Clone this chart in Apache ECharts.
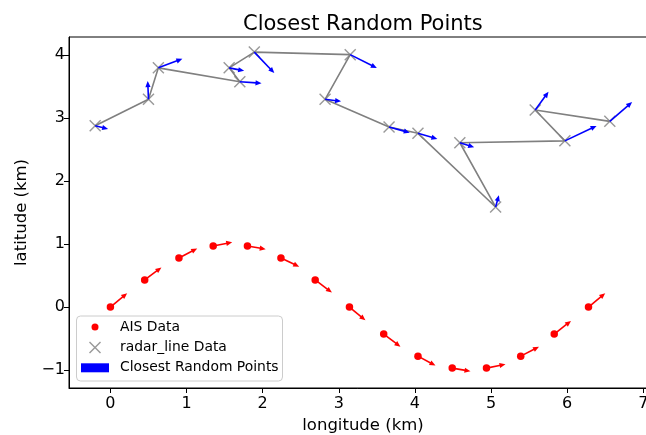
<!DOCTYPE html>
<html>
<head>
<meta charset="utf-8">
<script src="https://cdn.jsdelivr.net/npm/echarts@6/dist/echarts.min.js"></script>
<style>
  html, body { margin: 0; padding: 0; background: #fff; }
  #chart { width: 646px; height: 435px; }
</style>
</head>
<body>
<div id="chart"></div>
<script>
// AIS track (red dots) and its heading arrows
var aisLon = [0, 0.45, 0.90, 1.35, 1.80, 2.24, 2.69, 3.14, 3.59, 4.04, 4.49, 4.94, 5.39, 5.83, 6.28];
var aisLat = [0, 0.43, 0.78, 0.97, 0.97, 0.78, 0.43, 0, -0.43, -0.78, -0.97, -0.97, -0.78, -0.43, 0];
var aisDu  = [0.22, 0.22, 0.24, 0.25, 0.24, 0.24, 0.22, 0.21, 0.22, 0.23, 0.24, 0.25, 0.24, 0.22, 0.22];
var aisDv  = [0.22, 0.20, 0.15, 0.06, -0.05, -0.14, -0.20, -0.21, -0.20, -0.15, -0.05, 0.06, 0.15, 0.21, 0.22];

// radar line points (grey x) and the blue arrows
var radarLon = [-0.20, 0.50, 0.63, 1.70, 1.56, 1.89, 3.15, 2.82, 3.66, 4.04, 5.06, 4.59, 5.97, 5.58, 6.56];
var radarLat = [2.88, 3.30, 3.80, 3.58, 3.80, 4.05, 4.01, 3.30, 2.86, 2.76, 1.59, 2.61, 2.64, 3.13, 2.95];
var radarDu  = [0.17, -0.01, 0.315, 0.285, 0.197, 0.263, 0.35, 0.21, 0.272, 0.255, 0.043, 0.188, 0.416, 0.175, 0.293];
var radarDv  = [-0.05, 0.29, 0.143, -0.025, -0.048, -0.333, -0.213, -0.032, -0.09, -0.09, 0.186, -0.073, 0.238, 0.29, 0.306];

var xTicks = [0, 1, 2, 3, 4, 5, 6, 7];
var yTicks = [-1, 0, 1, 2, 3, 4];

var FONT = 'DejaVu Sans';
var xIcon = 'path://M0,1L1,0L6,5L11,0L12,1L7,6L12,11L11,12L6,7L1,12L0,11L5,6Z';

function zip2(a, b) {
	var out = [];
	for (var i = 0; i < a.length; i++) out.push([a[i], b[i]]);
	return out;
}
function zip4(a, b, c, d) {
	var out = [];
	for (var i = 0; i < a.length; i++) out.push([a[i], b[i], c[i], d[i]]);
	return out;
}
// matplotlib style minus sign
function tickFmt(v) {
	return String(v).replace('-', '\u2212');
}

// quiver-like arrow drawn from (x,y) to (x+dx,y+dy)
function arrowRenderer(color) {
	return function (params, api) {
		var p0 = api.coord([api.value(0), api.value(1)]);
		var p1 = api.coord([api.value(0) + api.value(2), api.value(1) + api.value(3)]);
		var vx = p1[0] - p0[0], vy = p1[1] - p0[1];
		var len = Math.sqrt(vx * vx + vy * vy) || 1;
		var ux = vx / len, uy = vy / len;
		var hl = Math.min(6, len * 0.6), hw = 2.6;
		var bx = p1[0] - ux * hl, by = p1[1] - uy * hl;
		return {
			type: 'group',
			children: [
				{ type: 'line', shape: { x1: p0[0], y1: p0[1], x2: bx + ux, y2: by + uy },
				  style: { stroke: color, lineWidth: 1.6 } },
				{ type: 'polygon',
				  shape: { points: [[p1[0], p1[1]], [bx - uy * hw, by + ux * hw], [bx + uy * hw, by - ux * hw]] },
				  style: { fill: color } }
			]
		};
	};
}

var chart = echarts.init(document.getElementById('chart'));

var legendText = { fontFamily: FONT, fontSize: 13.9, color: '#000', padding: [0, 0, 0, 6] };

var option = {
	animation: false,
	backgroundColor: '#fff',
	title: {
		text: 'Closest Random Points',
		left: 243, top: 14, padding: 0,
		textStyle: { fontFamily: FONT, fontSize: 21, fontWeight: 'normal', color: '#000' }
	},
	grid: {
		left: 69, right: -11, top: 37, bottom: 47,
		outerBoundsMode: 'none', containLabel: false,
		show: true, borderColor: '#000', borderWidth: 1, backgroundColor: 'transparent'
	},
	graphic: [{
		type: 'rect', left: 76, top: 315.5, z: 5,
		shape: { width: 206, height: 65, r: 4 },
		style: { fill: 'rgba(255,255,255,0.8)', stroke: '#cccccc', lineWidth: 1 }
	}],
	legend: [
		{ data: [{ name: 'AIS Data', icon: 'circle' }], left: 91.5, top: 320, padding: 0, z: 6,
		  itemWidth: 28, itemHeight: 7, textStyle: legendText },
		{ data: [{ name: 'radar_line Data', icon: xIcon }], left: 89, top: 340.5, padding: 0, z: 6,
		  itemWidth: 28, itemHeight: 12, textStyle: legendText },
		{ data: [{ name: 'Closest Random Points', icon: 'rect' }], left: 81, top: 360.8, padding: 0, z: 6,
		  itemWidth: 28, itemHeight: 9, textStyle: legendText }
	],
	xAxis: {
		type: 'value', min: -0.544, max: 7.18,
		name: 'longitude (km)', nameLocation: 'middle', nameGap: 29,
		nameTextStyle: { fontFamily: FONT, fontSize: 16.5, color: '#000' },
		axisLine: { onZero: false, lineStyle: { color: '#000', width: 1 } },
		axisTick: { length: 5, lineStyle: { color: '#000' }, customValues: xTicks },
		axisLabel: { fontFamily: FONT, fontSize: 16, color: '#000', margin: 8, customValues: xTicks, formatter: tickFmt },
		splitLine: { show: false }
	},
	yAxis: {
		type: 'value', min: -1.286, max: 4.29,
		name: 'latitude (km)', nameLocation: 'middle', nameGap: 35,
		nameTextStyle: { fontFamily: FONT, fontSize: 16.5, color: '#000' },
		axisLine: { show: true, onZero: false, lineStyle: { color: '#000', width: 1 } },
		axisTick: { show: true, length: 5, lineStyle: { color: '#000' }, customValues: yTicks },
		axisLabel: { fontFamily: FONT, fontSize: 16, color: '#000', margin: 4, customValues: yTicks, formatter: tickFmt },
		splitLine: { show: false }
	},
	series: [
		{
			name: 'radar path', type: 'line', data: zip2(radarLon, radarLat),
			showSymbol: false, symbol: 'none', silent: true, z: 2,
			lineStyle: { color: '#808080', width: 1.6 }
		},
		{
			name: 'radar_line Data', type: 'scatter', data: zip2(radarLon, radarLat),
			symbol: xIcon, symbolSize: 12, z: 3,
			itemStyle: { color: '#808080' }
		},
		{
			name: 'AIS Data', type: 'scatter', data: zip2(aisLon, aisLat),
			symbol: 'circle', symbolSize: 7.5, z: 3,
			itemStyle: { color: '#ff0000', opacity: 1 }
		},
		{
			name: 'AIS heading', type: 'custom', data: zip4(aisLon, aisLat, aisDu, aisDv),
			renderItem: arrowRenderer('#ff0000'), silent: true, z: 4,
			itemStyle: { color: '#ff0000' }
		},
		{
			name: 'Closest Random Points', type: 'custom', data: zip4(radarLon, radarLat, radarDu, radarDv),
			renderItem: arrowRenderer('#0000ff'), silent: true, z: 4,
			itemStyle: { color: '#0000ff' }
		}
	]
};

chart.setOption(option);
</script>
</body>
</html>
